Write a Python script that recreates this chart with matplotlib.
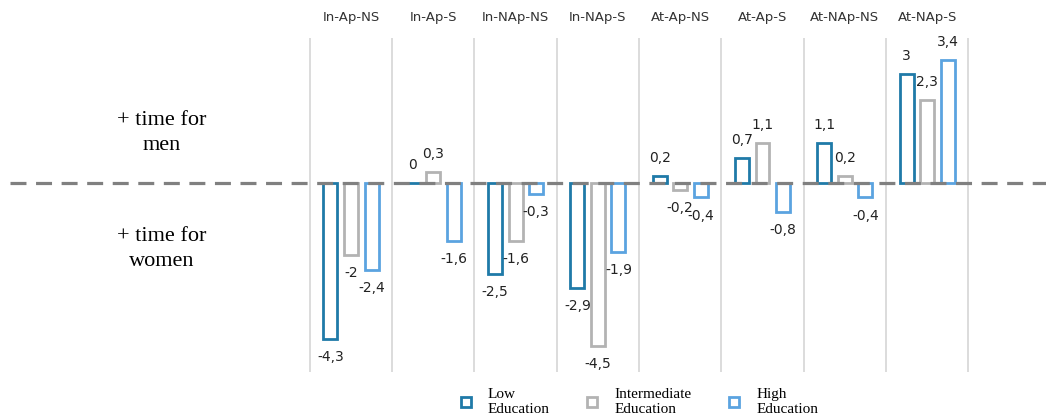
#!/usr/bin/env python3
# gender time gap by education, hollow grouped bars

import numpy as np
import matplotlib.pyplot as plt
from matplotlib.lines import Line2D

categories = ['In-Ap-NS', 'In-Ap-S', 'In-NAp-NS', 'In-NAp-S',
              'At-Ap-NS', 'At-Ap-S', 'At-NAp-NS', 'At-NAp-S']
low_edu = [-4.3, 0, -2.5, -2.9, 0.2, 0.7, 1.1, 3]
mid_edu = [-2, 0.3, -1.6, -4.5, -0.2, 1.1, 0.2, 2.3]
high_edu = [-2.4, -1.6, -0.3, -1.9, -0.4, -0.8, -0.4, 3.4]
series_names = ['Low\nEducation', 'Intermediate\nEducation', 'High\nEducation']

colors = ['#1f7aa8', '#b3b3b3', '#5ba3e0']

W, H = 1046, 419
fig = plt.figure(figsize=(W / 100, H / 100), dpi=100)
ax = fig.add_axes([0, 0, 1, 1])

# pixel mapping: group 0 centred at x=351, 82.3 px per group; zero at y=183, 36.2 px per unit
px_grp = 82.3
x0 = 351
px_unit = 36.2
y0 = 183
ax.set_xlim(-x0 / px_grp, (W - x0) / px_grp)
ax.set_ylim(-(H - y0) / px_unit, y0 / px_unit)
ax.axis('off')

x = np.arange(len(categories))
offsets = [-0.25, 0, 0.25]
bw = 0.17

# group separators
ax.vlines(np.arange(len(categories) + 1) - 0.5, -(372 - y0) / px_unit, (y0 - 38) / px_unit,
          color='#d9d9d9', linewidth=1.3, zorder=1)

for vals, off, col in zip([low_edu, mid_edu, high_edu], offsets, colors):
    ax.bar(x + off, vals, width=bw, facecolor='white', edgecolor=col,
           linewidth=2.0, zorder=2)
    for xi, v in zip(x + off, vals):
        txt = f'{v:g}'.replace('.', ',')
        dy = 13 if v >= 0 else -13
        ax.annotate(txt, (xi, v), xytext=(0, dy), textcoords='offset points',
                    ha='center', va='center', fontsize=10, color='#222222',
                    family='DejaVu Sans', zorder=4)

# zero dashed line
ax.plot([-x0 / px_grp + 10 / px_grp, (W - x0) / px_grp], [0, 0], color='#808080',
        linewidth=2.3, dashes=(5, 3), zorder=3)

for xi, c in zip(x, categories):
    ax.text(xi, (y0 - 18) / px_unit, c, ha='center', va='center', fontsize=9.5,
            color='#333333', family='DejaVu Sans')

ax.text(162 / px_grp - x0 / px_grp, (y0 - 133) / px_unit, '+ time for\nmen',
        ha='center', va='center', fontsize=16, family='Liberation Serif',
        linespacing=1.4)
ax.text(162 / px_grp - x0 / px_grp, (y0 - 249) / px_unit, '+ time for\nwomen',
        ha='center', va='center', fontsize=16, family='Liberation Serif',
        linespacing=1.4)

handles = [Line2D([], [], linestyle='none', marker='s', markersize=7.5,
                  markerfacecolor='white', markeredgecolor=c, markeredgewidth=2)
           for c in colors]
fig.legend(handles, series_names, loc='center left', bbox_to_anchor=(458 / W, 1 - 402 / H),
           ncol=3, frameon=False, prop={'family': 'Liberation Serif', 'size': 11},
           handletextpad=0.94, columnspacing=2.3, handlelength=1.0, borderpad=0,
           borderaxespad=0)
for t in fig.legends[0].get_texts():
    t.set_linespacing(1.2)

fig.savefig('out.png', dpi=100)
